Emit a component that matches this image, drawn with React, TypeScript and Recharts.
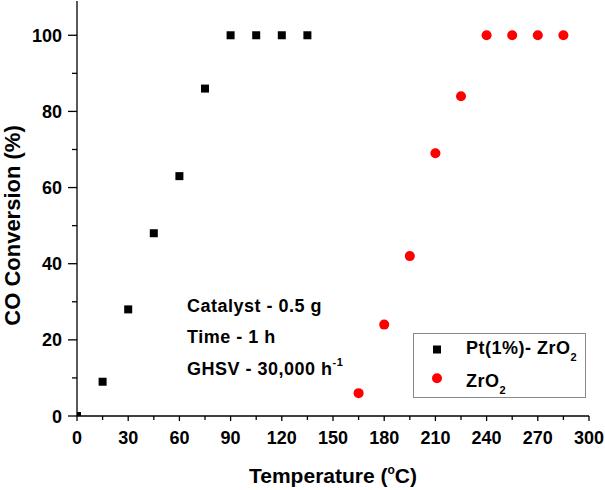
import React from 'react';
import { ScatterChart, Scatter, XAxis, YAxis, Legend, Label } from 'recharts';

// Pt(1%)-ZrO2 catalyst
const ptTemps = [0, 15, 30, 45, 60, 75, 90, 105, 120, 135];
const ptConv = [0, 9, 28, 48, 63, 86, 100, 100, 100, 100];
// bare ZrO2
const zrTemps = [165, 180, 195, 210, 225, 240, 255, 270, 285];
const zrConv = [6, 24, 42, 69, 84, 100, 100, 100, 100];

const xTicks = [0, 15, 30, 45, 60, 75, 90, 105, 120, 135, 150, 165, 180, 195, 210, 225, 240, 255, 270, 285, 300];
const yTicks = [0, 10, 20, 30, 40, 50, 60, 70, 80, 90, 100];

const ptData = ptTemps.map((x, i) => ({ x, y: ptConv[i] }));
const zrData = zrTemps.map((x, i) => ({ x, y: zrConv[i] }));

const FONT = 'Arial, "Liberation Sans", sans-serif';

const YTick = (props: any) => {
    const { x, y, payload } = props;
    const major = payload.value % 20 === 0;
    return (
        <g>
            <line x1={x} x2={x - (major ? 9 : 5)} y1={y} y2={y} stroke="#000" strokeWidth={1.3} />
            {major && (
                <text x={x - 15} y={y} dy={6.5} textAnchor="end" fontFamily={FONT} fontWeight="bold" fontSize={18} fill="#000">
                    {payload.value}
                </text>
            )}
        </g>
    );
};

const XTick = (props: any) => {
    const { x, y, payload } = props;
    const major = payload.value % 30 === 0;
    return (
        <g>
            <line x1={x} x2={x} y1={y} y2={y + (major ? 5 : 4)} stroke="#000" strokeWidth={1.3} />
            {major && (
                <text x={x} y={y + 28} textAnchor="middle" fontFamily={FONT} fontWeight="bold" fontSize={18} fill="#000">
                    {payload.value}
                </text>
            )}
        </g>
    );
};

const Square = (props: any) => (
    <rect x={props.cx - 4} y={props.cy - 4} width={8} height={8} fill="#000" />
);
const Dot = (props: any) => <circle cx={props.cx} cy={props.cy} r={5} fill="#ff0000" />;

const renderLegend = () => (
    <svg width={173} height={65} style={{ display: 'block' }}>
        <rect x={0.5} y={0.5} width={172} height={64} fill="#fff" stroke="#888" strokeWidth={1} />
        <rect x={20} y={12.5} width={8} height={8} fill="#000" />
        <text x={53} y={21.3} fontFamily={FONT} fontWeight="bold" fontSize={18} letterSpacing={0.5} fill="#000">
            Pt(1%)- ZrO<tspan fontSize={11} dy={7}>2</tspan>
        </text>
        <circle cx={24} cy={45.3} r={5} fill="#ff0000" />
        <text x={53} y={53.7} fontFamily={FONT} fontWeight="bold" fontSize={18} letterSpacing={0.5} fill="#000">
            ZrO<tspan fontSize={11} dy={7}>2</tspan>
        </text>
    </svg>
);

const XTitle = (props: any) => {
    const { x, y, width } = props.viewBox;
    return (
        <text x={x + width / 2} y={y + 67} textAnchor="middle" fontFamily={FONT} fontWeight="bold" fontSize={21} fill="#000">
            Temperature (<tspan fontSize={12} dy={-9}>o</tspan><tspan dy={9}>C)</tspan>
        </text>
    );
};

const YTitle = (props: any) => {
    const { y, height } = props.viewBox;
    const cy = y + height / 2 + 17;
    return (
        <text x={19.5} y={cy} transform={`rotate(-90, 19.5, ${cy})`} textAnchor="middle" fontFamily={FONT} fontWeight="bold" fontSize={22} fill="#000">
            CO Conversion (%)
        </text>
    );
};

export default function App() {
    return (
        <div style={{ position: 'absolute', left: 0, top: 0, width: 605, height: 490, background: '#fff' }}>
            <ScatterChart width={605} height={490} margin={{ top: 1, right: 16, bottom: 0, left: 0 }}>
                <XAxis
                    type="number"
                    dataKey="x"
                    domain={[0, 300]}
                    ticks={xTicks}
                    interval={0}
                    allowDataOverflow
                    height={74}
                    tickSize={0}
                    tickMargin={0}
                    tickLine={false}
                    tick={<XTick />}
                    axisLine={{ stroke: '#000', strokeWidth: 1.3 }}
                >
                    <Label content={<XTitle />} />
                </XAxis>
                <XAxis xAxisId="top" orientation="top" type="number" domain={[0, 300]} height={0} tick={false} tickLine={false} axisLine={{ stroke: '#000', strokeWidth: 1.3 }} />
                <YAxis
                    type="number"
                    dataKey="y"
                    domain={[0, 109]}
                    ticks={yTicks}
                    interval={0}
                    allowDataOverflow
                    width={77}
                    tickSize={0}
                    tickMargin={0}
                    tickLine={false}
                    tick={<YTick />}
                    axisLine={{ stroke: '#000', strokeWidth: 1.3 }}
                >
                    <Label content={<YTitle />} />
                </YAxis>
                <YAxis yAxisId="right" orientation="right" type="number" domain={[0, 109]} width={0} tick={false} tickLine={false} axisLine={{ stroke: '#000', strokeWidth: 1.3 }} />
                <Scatter name="Pt(1%)- ZrO2" data={ptData} fill="#000" shape={<Square />} isAnimationActive={false} />
                <Scatter name="ZrO2" data={zrData} fill="#ff0000" shape={<Dot />} isAnimationActive={false} />
                <Legend
                    layout="vertical"
                    align="center"
                    verticalAlign="middle"
                    content={renderLegend}
                    wrapperStyle={{ left: 413, top: 333, width: 173, height: 65 }}
                />
            </ScatterChart>
            <svg width={605} height={490} style={{ position: 'absolute', left: 0, top: 0, pointerEvents: 'none' }}>
                <g fontFamily={FONT} fontWeight="bold" fontSize={18} letterSpacing={0.5} fill="#000">
                    <text x={187} y={312}>Catalyst - 0.5 g</text>
                    <text x={187} y={343}>Time - 1 h</text>
                    <text x={187} y={375}>
                        GHSV - 30,000 h<tspan fontSize={11} dy={-9}>-1</tspan>
                    </text>
                </g>
            </svg>
        </div>
    );
}
